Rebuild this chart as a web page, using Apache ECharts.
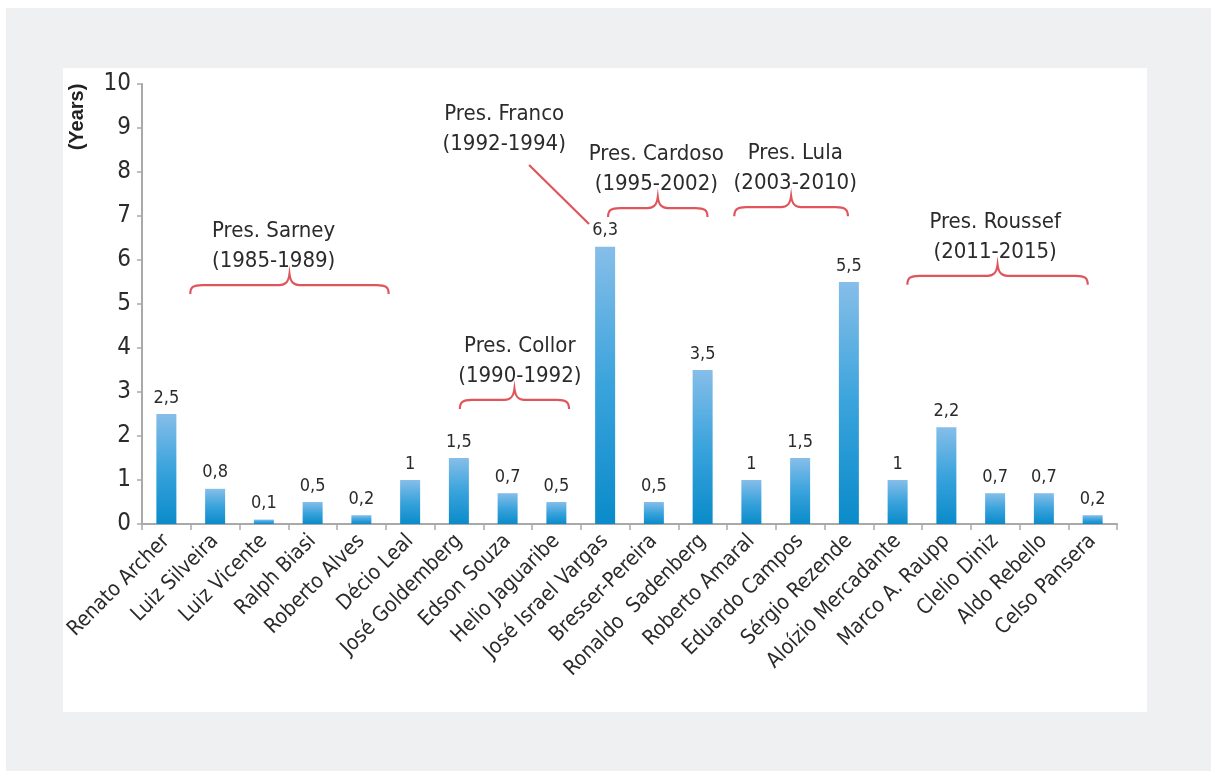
<!DOCTYPE html>
<html>
<head>
<meta charset="utf-8">
<script src="https://cdn.jsdelivr.net/npm/echarts@6/dist/echarts.min.js"></script>
<style>
  html, body { margin: 0; padding: 0; background: #ffffff; }
  #chart { width: 1211px; height: 771px; }
</style>
</head>
<body>
<div id="chart"></div>
<script>
// Ministers of Science and Technology and their time in office
const categories = [
  'Renato Archer', 'Luiz Silveira', 'Luiz Vicente', 'Ralph Biasi', 'Roberto Alves',
  'Décio Leal', 'José Goldemberg', 'Edson Souza', 'Helio Jaguaribe', 'José Israel Vargas',
  'Bresser-Pereira', 'Ronaldo  Sadenberg', 'Roberto Amaral', 'Eduardo Campos', 'Sérgio Rezende',
  'Aloízio Mercadante', 'Marco A. Raupp', 'Clelio Diniz', 'Aldo Rebello', 'Celso Pansera'
];
const years = [2.5, 0.8, 0.1, 0.5, 0.2, 1, 1.5, 0.7, 0.5, 6.3, 0.5, 3.5, 1, 1.5, 5.5, 1, 2.2, 0.7, 0.7, 0.2];
const yTicks = [0, 1, 2, 3, 4, 5, 6, 7, 8, 9, 10];

// Presidential terms: brace spans (in category units) and heights (in years)
const presidents = ['Pres. Sarney', 'Pres. Collor', 'Pres. Franco', 'Pres. Cardoso', 'Pres. Lula', 'Pres. Roussef'];
const terms = ['(1985-1989)', '(1990-1992)', '(1992-1994)', '(1995-2002)', '(2003-2010)', '(2011-2015)'];
const markKind = ['brace', 'brace', 'leader', 'brace', 'brace', 'brace'];
const spanFrom = [0.49, 6.02, 7.44, 9.06, 11.65, 15.2];
const spanTo = [4.56, 8.26, 8.67, 11.1, 13.98, 18.9];
const spanLevel = [5.43, 2.82, 8.16, 7.18, 7.2, 5.64];
const leaderTip = [null, null, 6.82, null, null, null];
const labelAt = [2.2, 7.25, 6.93, 10.05, 12.9, 17.0];

const FONT = "'DejaVu Sans Condensed', 'Liberation Sans Narrow', sans-serif";
const TEXT = '#2b2b2b';
const AXIS = '#a9a9a9';
const BRACE = '#e0555b';

const fmt = v => String(v).replace('.', ',');

function bracePath(x1, x2, y) {
  const m = (x1 + x2) / 2, d = 9, h = 11, r = 12;
  return [
    'M', x1, y + d,
    'C', x1, y + 2, x1 + 3, y, x1 + r, y,
    'L', m - 10, y,
    'C', m - 4, y, m - 1, y - 3, m, y - h,
    'C', m + 1, y - 3, m + 4, y, m + 10, y,
    'L', x2 - r, y,
    'C', x2 - 3, y, x2, y + 2, x2, y + d
  ].join(' ');
}

const annotationData = presidents.map((p, i) => [spanFrom[i], spanTo[i], spanLevel[i], labelAt[i], leaderTip[i] == null ? spanLevel[i] : leaderTip[i]]);

const chart = echarts.init(document.getElementById('chart'), null, { renderer: 'canvas' });

chart.setOption({
  animation: false,
  backgroundColor: '#ffffff',
  graphic: [
    { type: 'rect', z: -10, shape: { x: 6, y: 8, width: 1205, height: 763 }, style: { fill: '#eff0f2' }, silent: true },
    { type: 'rect', z: -9, shape: { x: 63, y: 68, width: 1084, height: 644 }, style: { fill: '#ffffff' }, silent: true },
    {
      type: 'text', x: 77, y: 117, rotation: Math.PI / 2,
      style: { text: '(Years)', fontFamily: "'Liberation Sans', Arial, sans-serif", fontWeight: 'bold', fontSize: 20, fill: '#222', align: 'center', verticalAlign: 'middle' }
    }
  ],
  grid: { left: 142, right: 94, top: 84, bottom: 247, containLabel: false, outerBoundsMode: 'none' },
  xAxis: [
    {
      type: 'category',
      data: categories,
      boundaryGap: true,
      axisLine: { show: true, lineStyle: { color: AXIS, width: 2 } },
      axisTick: { show: true, alignWithLabel: false, length: 6, lineStyle: { color: AXIS, width: 1.5 } },
      axisLabel: { rotate: 45, margin: 14, interval: 0, fontFamily: FONT, fontSize: 21, color: TEXT }
    },
    { type: 'value', min: -0.5, max: 19.5, show: false }
  ],
  yAxis: {
    type: 'value',
    min: 0, max: 10, interval: 1,
    axisLine: { show: true, onZero: false, lineStyle: { color: AXIS, width: 2 } },
    axisTick: { show: true, length: 5, lineStyle: { color: AXIS, width: 1.5 } },
    splitLine: { show: false },
    axisLabel: {
      margin: 11, fontFamily: FONT, fontSize: 24, color: TEXT,
      formatter: v => (yTicks.includes(v) ? String(v) : '')
    }
  },
  series: [
    {
      type: 'bar',
      data: years,
      barWidth: 20,
      itemStyle: {
        color: new echarts.graphic.LinearGradient(0, 0, 0, 1, [
          { offset: 0, color: '#86bee9' },
          { offset: 0.5, color: '#3aa3dc' },
          { offset: 1, color: '#0a8bca' }
        ])
      },
      label: {
        show: true, position: 'top', distance: 7,
        fontFamily: FONT, fontSize: 18, color: TEXT,
        formatter: p => fmt(p.value)
      }
    },
    {
      type: 'custom',
      xAxisIndex: 1,
      yAxisIndex: 0,
      clip: false,
      z: 5,
      data: annotationData,
      encode: { x: [0, 1, 3], y: [2, 4] },
      renderItem: (params, api) => {
        const i = params.dataIndex;
        const level = api.value(2);
        const a = api.coord([api.value(0), level]);
        const b = api.coord([api.value(1), level]);
        const tx = api.coord([api.value(3), level])[0];
        const textStyle = {
          text: presidents[i] + '\n' + terms[i],
          fontFamily: FONT, fontSize: 22, lineHeight: 30,
          fill: TEXT, align: 'center', verticalAlign: 'bottom'
        };
        if (markKind[i] === 'leader') {
          const tip = api.coord([api.value(1), api.value(4)]);
          return {
            type: 'group',
            children: [
              { type: 'line', shape: { x1: a[0], y1: a[1], x2: tip[0], y2: tip[1] }, style: { stroke: BRACE, lineWidth: 2.2 } },
              { type: 'text', style: Object.assign({ x: tx, y: a[1] - 6 }, textStyle) }
            ]
          };
        }
        return {
          type: 'group',
          children: [
            { type: 'path', shape: { pathData: bracePath(a[0], b[0], a[1]) }, style: { stroke: BRACE, fill: null, lineWidth: 2.2 } },
            { type: 'text', style: Object.assign({ x: tx, y: a[1] - 9 }, textStyle) }
          ]
        };
      }
    }
  ]
});
</script>
</body>
</html>
